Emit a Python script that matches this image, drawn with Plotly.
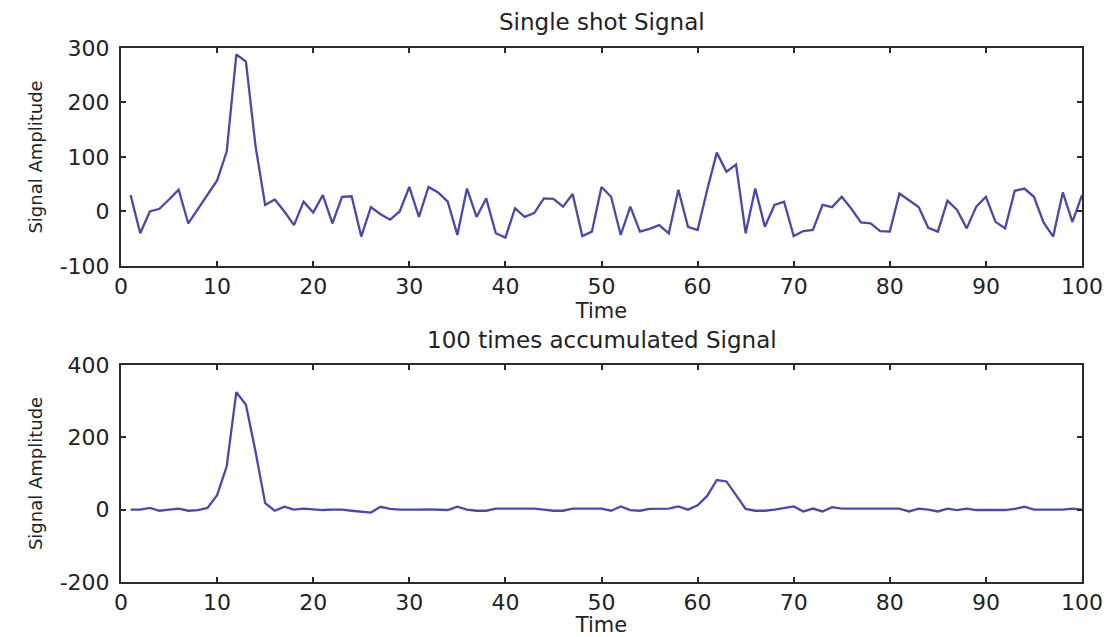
import plotly.graph_objects as go

time = list(range(1, 101))

single_shot = [30, -40, 0, 5, 22, 40, -22, 5, 30, 57,
               110, 288, 275, 120, 12, 22, 0, -25, 18, -2,
               30, -22, 27, 28, -46, 8, -5, -15, 0, 45,
               -10, 45, 35, 18, -43, 42, -10, 24, -40, -48,
               6, -10, -3, 24, 23, 9, 32, -45, -37, 45,
               27, -43, 9, -37, -32, -25, -40, 40, -28, -34,
               40, 108, 73, 86, -40, 42, -28, 12, 18, -45,
               -36, -34, 12, 8, 27, 5, -20, -22, -36, -37,
               33, 20, 8, -30, -37, 20, 3, -31, 9, 27,
               -19, -31, 38, 42, 27, -20, -46, 35, -19, 30]

accumulated = [0, 0, 5, -3, 0, 3, -3, -1, 5, 40,
               120, 325, 290, 160, 18, -3, 8, 0, 3, 0,
               -1, 0, 0, -3, -5, -8, 8, 2, 0, -1,
               0, 1, 0, -1, 8, 0, -3, -3, 3, 3,
               3, 3, 3, 0, -3, -3, 3, 3, 3, 3,
               -3, 9, -1, -3, 2, 3, 3, 9, 0, 12,
               38, 82, 78, 40, 2, -3, -3, 0, 5, 9,
               -5, 3, -5, 7, 3, 3, 3, 3, 3, 3,
               3, -5, 3, 0, -5, 3, -1, 3, -1, -1,
               -1, -1, 2, 8, 0, 0, 0, 0, 3, 0]

titles = ["Single shot Signal", "100 times accumulated Signal"]
x_label = "Time"
y_label = "Signal Amplitude"
x_ticks = [0, 10, 20, 30, 40, 50, 60, 70, 80, 90, 100]
y_ticks_top = [-100, 0, 100, 200, 300]
y_ticks_bottom = [-200, 0, 200, 400]

line_color = "#4a4aa6"
axis_color = "#2b2b2b"
text_color = "#222222"
font_family = "DejaVu Sans"

fig = go.Figure()
fig.add_trace(go.Scatter(x=time, y=single_shot, mode="lines",
                         line=dict(color=line_color, width=2.3),
                         xaxis="x", yaxis="y", showlegend=False))
fig.add_trace(go.Scatter(x=time, y=accumulated, mode="lines",
                         line=dict(color=line_color, width=2.3),
                         xaxis="x2", yaxis="y2", showlegend=False))

def x_axis(standoff):
    return dict(range=[0, 100], tickvals=x_ticks, ticktext=[str(v) for v in x_ticks],
                ticks="inside", ticklen=5, automargin=False,
                tickwidth=1.5, tickcolor=axis_color, showline=True, linewidth=2,
                linecolor=axis_color, mirror="ticks", showgrid=False, zeroline=False,
                tickfont=dict(family=font_family, size=22, color=text_color),
                title=dict(text=x_label, font=dict(family=font_family, size=21, color=text_color),
                           standoff=standoff))

def y_axis(ticks, rng):
    return dict(range=rng, tickvals=ticks, ticktext=[str(v) for v in ticks],
                ticks="inside", ticklen=5, tickwidth=1.5, tickcolor=axis_color,
                showline=True, linewidth=2, linecolor=axis_color, mirror="ticks",
                showgrid=False, zeroline=False, ticklabelstandoff=5, automargin=False,
                tickfont=dict(family=font_family, size=22, color=text_color),
                title=dict(text=y_label, font=dict(family=font_family, size=18, color=text_color),
                           standoff=12))

top_dom = [0.5918, 1.0]
bot_dom = [0.0, 0.4064]

fig.update_layout(
    width=1113, height=637,
    margin=dict(l=121, r=31, t=48, b=55),
    paper_bgcolor="white", plot_bgcolor="white",
    xaxis=dict(x_axis(0), domain=[0, 1], anchor="y"),
    yaxis=dict(y_axis(y_ticks_top, [-100, 300]), domain=top_dom, anchor="x"),
    xaxis2=dict(x_axis(4), domain=[0, 1], anchor="y2"),
    yaxis2=dict(y_axis(y_ticks_bottom, [-200, 400]), domain=bot_dom, anchor="x2"),
    annotations=[
        dict(text=titles[0], x=0.5, y=top_dom[1], xref="paper", yref="paper",
             xanchor="center", yanchor="bottom", yshift=11, showarrow=False,
             font=dict(family=font_family, size=23, color=text_color)),
        dict(text=titles[1], x=0.5, y=bot_dom[1], xref="paper", yref="paper",
             xanchor="center", yanchor="bottom", yshift=10, showarrow=False,
             font=dict(family=font_family, size=23, color=text_color)),
    ],
)

fig.write_html("out.html", config={"displayModeBar": False},
               post_script="document.body.style.margin='0';")
